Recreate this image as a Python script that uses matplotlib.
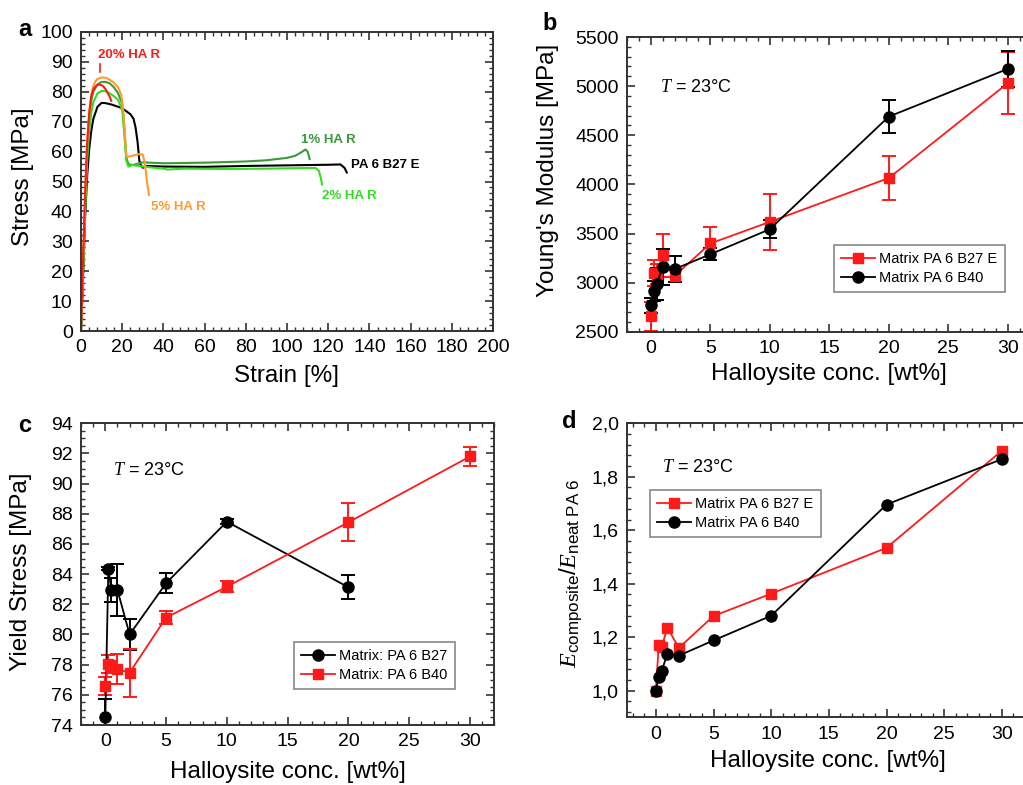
import matplotlib
matplotlib.use('Agg')
import matplotlib.pyplot as plt
from matplotlib.ticker import MultipleLocator

plt.rcParams['font.family'] = ['Liberation Sans', 'DejaVu Sans']
plt.rcParams['mathtext.fontset'] = 'custom'
plt.rcParams['mathtext.it'] = 'Liberation Serif:italic'
plt.rcParams['mathtext.rm'] = 'Liberation Sans'
plt.rcParams['mathtext.bf'] = 'Liberation Sans:bold'

# ---------------- Panel a: stress-strain curves ----------------
strain_b27 = [0, 1, 2, 3, 4, 5, 6, 8, 10, 12, 15, 18, 20, 22, 24, 25.5, 26.5, 27.5, 28.3, 29, 30, 32, 40, 60, 80, 100, 120, 126, 128, 129]
stress_b27 = [0, 18, 38, 52, 61, 67, 71, 75, 76.3, 76.2, 75.7, 75, 74.5, 73.5, 72.5, 71, 68, 63, 57, 55.5, 54.6, 55.2, 55.0, 54.9, 55.2, 55.4, 55.6, 55.7, 54.5, 53]
strain_1 = [0, 1, 2, 3, 4, 5, 6, 8, 10, 12, 14, 16, 18, 20, 21, 22, 23, 25, 30, 40, 60, 80, 90, 100, 104, 107, 109, 110, 111]
stress_1 = [0, 20, 42, 60, 71, 77, 80, 82.5, 83.3, 83.3, 82.8, 81.5, 79.5, 76, 68, 58, 55.8, 55.5, 56.4, 56.1, 56.3, 56.7, 57.1, 57.9, 58.6, 59.8, 60.7, 60.0, 57.5]
strain_2 = [0, 1, 2, 3, 4, 5, 6, 8, 10, 12, 14, 16, 18, 20, 21, 22, 23, 25, 30, 40, 42, 50, 70, 90, 110, 114, 115.5, 116.5, 117]
stress_2 = [0, 20, 40, 57, 67, 73, 76.5, 79.5, 80.3, 80.2, 79.5, 78.5, 77.3, 74, 66, 57, 55, 55.5, 55, 54.3, 54, 54.3, 54.2, 54.3, 54.5, 54.5, 53.5, 51, 49]
strain_5 = [0, 1, 2, 3, 4, 5, 6, 7, 8, 10, 12, 14, 16, 18, 19.5, 20.5, 21.3, 22, 23, 26, 28.5, 30, 31, 32, 33]
stress_5 = [0, 22, 45, 63, 73, 79, 82, 83.5, 84.3, 84.8, 84.7, 84, 83, 81.5, 79, 74, 66, 58.5, 58.3, 58.8, 59.2, 59, 56, 50, 45.5]
strain_20 = [0, 1, 2, 3, 4, 5, 6, 7, 8, 9, 10, 11, 12, 13, 14, 14.7]
stress_20 = [0, 24, 46, 63, 73, 78.5, 80.8, 81.8, 82.3, 82.4, 82.2, 81.7, 80.8, 79.5, 78.3, 77]

# ---------------- Panel b: Young's modulus ----------------
conc_b = [0, 0.25, 0.5, 1, 2, 5, 10, 20, 30]
E_b27e = [2660, 3100, 3090, 3280, 3070, 3400, 3620, 4065, 5030]
E_b27e_err = [150, 130, 100, 220, 60, 165, 285, 225, 315]
E_b40 = [2770, 2920, 2990, 3160, 3140, 3290, 3545, 4690, 5175]
E_b40_err = [80, 100, 160, 180, 130, 60, 90, 170, 180]

# ---------------- Panel c: yield stress ----------------
conc_c_b27 = [0, 0.25, 0.5, 1, 2, 5, 10, 20]
ys_b27 = [74.5, 84.35, 82.95, 82.95, 80.0, 83.4, 87.48, 83.13]
ys_b27_err = [1.2, 0.1, 0.8, 1.75, 1.0, 0.65, 0.15, 0.8]
conc_c_b40 = [0, 0.25, 0.5, 1, 2, 5, 10, 20, 30]
ys_b40 = [76.6, 78.02, 77.85, 77.7, 77.47, 81.12, 83.17, 87.44, 91.8]
ys_b40_err = [0.6, 0.6, 0.4, 1.0, 1.6, 0.45, 0.35, 1.25, 0.6]

# ---------------- Panel d: relative modulus ----------------
conc_d = [0, 0.25, 0.5, 1, 2, 5, 10, 20, 30]
rel_b27e = [1.0, 1.169, 1.163, 1.235, 1.16, 1.279, 1.3625, 1.534, 1.8975]
rel_b40 = [1.0, 1.0525, 1.0725, 1.1375, 1.131, 1.1875, 1.28, 1.696, 1.866]
d_yticks = [1.0, 1.2, 1.4, 1.6, 1.8, 2.0]
d_yticklabels = ['1,0', '1,2', '1,4', '1,6', '1,8', '2,0']

RED = '#ff1a1a'
ORANGE = '#ff9a2e'
DKGREEN = '#3a9a3a'
LTGREEN = '#33dd22'

W, H = 1023, 785
fig = plt.figure(figsize=(W / 100, H / 100), dpi=100)


def axes_px(left, top, right, bottom):
    return fig.add_axes([left / W, 1 - bottom / H, (right - left) / W, (bottom - top) / H])


def style(ax, xmaj, xmin, ymaj, ymin):
    ax.xaxis.set_major_locator(MultipleLocator(xmaj))
    ax.xaxis.set_minor_locator(MultipleLocator(xmin))
    ax.yaxis.set_major_locator(MultipleLocator(ymaj))
    ax.yaxis.set_minor_locator(MultipleLocator(ymin))
    ax.tick_params(which='both', direction='in', top=True, right=True,
                   color='#333333', labelsize=14, labelcolor='black')
    ax.tick_params(which='major', length=6, width=1.2, pad=6)
    ax.tick_params(which='minor', length=3, width=1.0)
    for s in ax.spines.values():
        s.set_linewidth(1.4)
        s.set_color('#333333')


def add_legend(ax, handles, labels, loc, anchor):
    lg = ax.legend(handles, labels, loc=loc, bbox_to_anchor=anchor, borderaxespad=0, fontsize=10.5,
                   fancybox=False, edgecolor='#888888', framealpha=1, handlelength=2.3, borderpad=0.5,
                   labelspacing=0.3, handletextpad=0.3)
    lg.get_frame().set_linewidth(1.2)


LAB = 17.5

# ---- a ----
axa = axes_px(81, 32, 493, 331)
axa.plot(strain_b27, stress_b27, color='black', lw=1.5)
axa.plot(strain_1, stress_1, color=DKGREEN, lw=1.5)
axa.plot(strain_2, stress_2, color=LTGREEN, lw=1.5)
axa.plot(strain_5, stress_5, color=ORANGE, lw=1.5)
axa.plot(strain_20, stress_20, color=RED, lw=1.5)
axa.set_xlim(0, 200)
axa.set_ylim(0, 100)
style(axa, 20, 4, 10, 2)
axa.set_xlabel('Strain [%]', fontsize=LAB)
axa.set_ylabel('Stress [MPa]', fontsize=LAB)
axa.yaxis.set_label_coords(-0.115, 0.515)
axa.xaxis.set_label_coords(0.5, -0.115)
axa.text(8.4, 92.4, '20% HA R', color=RED, fontsize=9.5, fontweight='bold', va='center', ha='left')
axa.plot([9.2, 9.2], [86.5, 89.2], color=RED, lw=1.2)
axa.text(107, 64, '1% HA R', color=DKGREEN, fontsize=9.5, fontweight='bold', va='center', ha='left')
axa.text(131, 55.4, 'PA 6 B27 E', color='black', fontsize=9.5, fontweight='bold', va='center', ha='left')
axa.text(117, 45.2, '2% HA R', color=LTGREEN, fontsize=9.5, fontweight='bold', va='center', ha='left')
axa.text(34, 41.6, '5% HA R', color=ORANGE, fontsize=9.5, fontweight='bold', va='center', ha='left')
fig.text(25 / W, 1 - 30 / H, 'a', fontsize=17, fontweight='bold', ha='center', va='center')

eb = dict(capsize=5, elinewidth=1.4, capthick=1.4, lw=1.3)

# ---- b ----
axb = axes_px(627, 37, 1031.5, 332)
cb1 = axb.errorbar(conc_b, E_b27e, yerr=E_b27e_err, color=RED, marker='s', ms=7, **eb)
cb2 = axb.errorbar(conc_b, E_b40, yerr=E_b40_err, color='black', marker='o', ms=8, **eb)
axb.set_xlim(-2, 32)
axb.set_ylim(2500, 5500)
style(axb, 5, 1, 500, 100)
axb.set_xlabel('Halloysite conc. [wt%]', fontsize=LAB)
axb.set_ylabel("Young's Modulus [MPa]", fontsize=LAB)
axb.yaxis.set_label_coords(-0.168, 0.549)
axb.xaxis.set_label_coords(0.5, -0.105)
axb.text(0.082, 0.83, r'$T$ = 23°C', transform=axb.transAxes, fontsize=13, va='center', ha='left')
add_legend(axb, [cb1.lines[0], cb2.lines[0]], ['Matrix PA 6 B27 E', 'Matrix PA 6 B40'],
           'lower left', (0.512, 0.1356))
fig.text(550 / W, 1 - 23 / H, 'b', fontsize=17, fontweight='bold', ha='center', va='center')

# ---- c ----
axc = axes_px(81, 423.3, 494.3, 725)
cc1 = axc.errorbar(conc_c_b27, ys_b27, yerr=ys_b27_err, color='black', marker='o', ms=8, **eb)
cc2 = axc.errorbar(conc_c_b40, ys_b40, yerr=ys_b40_err, color=RED, marker='s', ms=7, **eb)
axc.set_xlim(-2, 32)
axc.set_ylim(74, 94)
style(axc, 5, 1, 2, 0.5)
axc.set_xlabel('Halloysite conc. [wt%]', fontsize=LAB)
axc.set_ylabel('Yield Stress [MPa]', fontsize=LAB)
axc.yaxis.set_label_coords(-0.118, 0.507)
axc.xaxis.set_label_coords(0.5, -0.118)
axc.text(0.077, 0.845, r'$T$ = 23°C', transform=axc.transAxes, fontsize=13, va='center', ha='left')
add_legend(axc, [cc1.lines[0], cc2.lines[0]], ['Matrix: PA 6 B27', 'Matrix: PA 6 B40'],
           'lower left', (0.515, 0.119))
fig.text(25 / W, 1 - 425 / H, 'c', fontsize=17, fontweight='bold', ha='center', va='center')

# ---- d ----
axd = axes_px(627, 423.3, 1030.7, 717.3)
ld1, = axd.plot(conc_d, rel_b27e, color=RED, marker='s', ms=7, lw=1.3)
ld2, = axd.plot(conc_d, rel_b40, color='black', marker='o', ms=8, lw=1.3)
axd.set_xlim(-2.5, 32.5)
axd.set_ylim(0.9, 2.0)
style(axd, 5, 1, 0.2, 0.04)
axd.set_yticks(d_yticks)
axd.set_yticklabels(d_yticklabels)
axd.set_xlabel('Halloysite conc. [wt%]', fontsize=LAB)
axd.set_ylabel(r'$E_{\mathrm{composite}}/E_{\mathrm{neat\ PA\ 6}}$', fontsize=LAB)
axd.yaxis.set_label_coords(-0.106, 0.49)
axd.xaxis.set_label_coords(0.497, -0.11)
axd.text(0.086, 0.85, r'$T$ = 23°C', transform=axd.transAxes, fontsize=13, va='center', ha='left')
add_legend(axd, [ld1, ld2], ['Matrix PA 6 B27 E', 'Matrix PA 6 B40'], 'upper left', (0.0567, 0.773))
fig.text(569 / W, 1 - 422 / H, 'd', fontsize=17, fontweight='bold', ha='center', va='center')

fig.savefig('out.png', dpi=100)
